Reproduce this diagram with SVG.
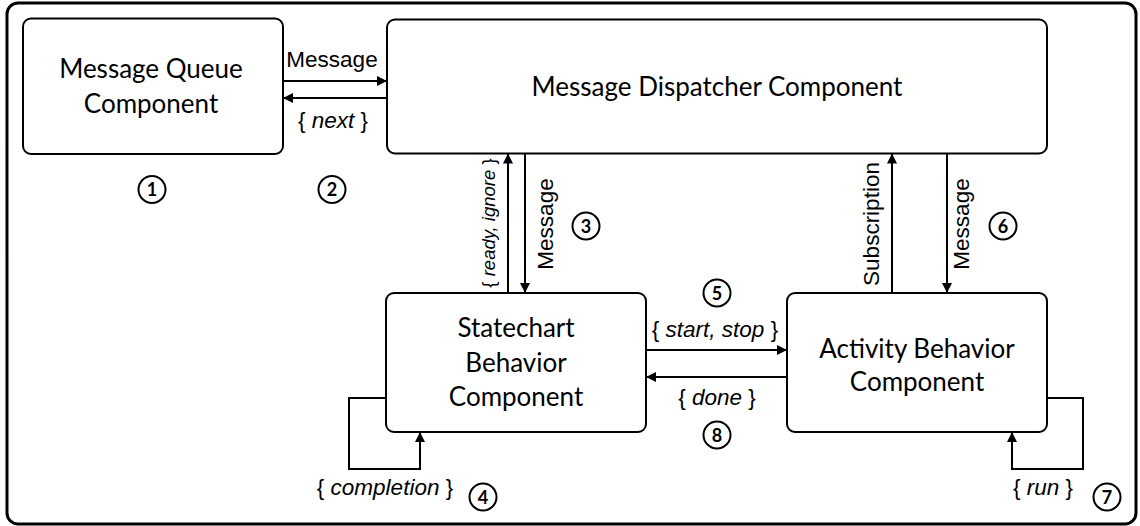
<svg xmlns="http://www.w3.org/2000/svg" width="1140" height="526" viewBox="0 0 1140 526">
<defs>
<marker id="ah" viewBox="0 0 10 10" refX="10" refY="5" markerWidth="10" markerHeight="10" markerUnits="userSpaceOnUse" orient="auto">
<path d="M0,0 L10,5 L0,10 z" fill="#000"/>
</marker>
<style>
.box{fill:#fff;stroke:#000;stroke-width:2}
.nl{font-family:Lato,"Liberation Sans",sans-serif;font-size:26px;fill:#000;text-anchor:middle}
.el{font-family:"Liberation Sans",Arial,sans-serif;font-size:22.5px;fill:#000;text-anchor:middle}
.sm{font-size:18.5px}
.it{font-style:italic}
.arr{fill:none;stroke:#000;stroke-width:2;marker-end:url(#ah)}
.num circle{fill:#fff;stroke:#000;stroke-width:2}
.num text{font-family:Lato,"Liberation Sans",sans-serif;font-size:18px;font-weight:bold;fill:#000;text-anchor:middle}
</style>
</defs>
<rect x="0" y="0" width="1140" height="526" fill="#fff"/>
<rect x="7" y="3" width="1129" height="521" rx="11" fill="none" stroke="#000" stroke-width="3"/>

<g id="mq">
<rect class="box" x="23" y="18.5" width="260" height="135.5" rx="8"/>
<text class="nl" x="151" y="78">Message Queue</text>
<text class="nl" x="151" y="113">Component</text>
</g>
<g id="md">
<rect class="box" x="387" y="19.5" width="660" height="134" rx="8"/>
<text class="nl" x="717" y="96">Message Dispatcher Component</text>
</g>
<g id="sc">
<rect class="box" x="386" y="293" width="260" height="139" rx="8"/>
<text class="nl" x="516" y="337">Statechart</text>
<text class="nl" x="516" y="372">Behavior</text>
<text class="nl" x="516" y="406">Component</text>
</g>
<g id="ab">
<rect class="box" x="787" y="293" width="260" height="139" rx="8"/>
<text class="nl" x="917" y="358">Activity Behavior</text>
<text class="nl" x="917" y="391">Component</text>
</g>

<g id="connectors">
<line class="arr" x1="283" y1="81" x2="387" y2="81"/>
<line class="arr" x1="387" y1="98" x2="283" y2="98"/>
<line class="arr" x1="508" y1="293" x2="508" y2="153.5"/>
<line class="arr" x1="525" y1="153.5" x2="525" y2="293"/>
<line class="arr" x1="892" y1="293" x2="892" y2="153.5"/>
<line class="arr" x1="947" y1="153.5" x2="947" y2="293"/>
<line class="arr" x1="646" y1="350" x2="787" y2="350"/>
<line class="arr" x1="787" y1="377" x2="646" y2="377"/>
<path class="arr" d="M386,398 H349 V469 H420 V432"/>
<path class="arr" d="M1047,398 H1083 V469 H1012 V432"/>
</g>

<g id="labels">
<text class="el" x="332" y="67">Message</text>
<text class="el" x="333" y="128">{ <tspan class="it">next</tspan> }</text>
<text class="el sm" transform="translate(495,223) rotate(-90)">{ <tspan class="it">ready, ignore</tspan> }</text>
<text class="el" transform="translate(553,224) rotate(-90)">Message</text>
<text class="el" transform="translate(879,224) rotate(-90)">Subscription</text>
<text class="el" transform="translate(969,224) rotate(-90)">Message</text>
<text class="el" x="715" y="337">{ <tspan class="it">start, stop</tspan> }</text>
<text class="el" x="717" y="405">{ <tspan class="it">done</tspan> }</text>
<text class="el" x="385" y="495">{ <tspan class="it">completion</tspan> }</text>
<text class="el" x="1043" y="495">{ <tspan class="it">run</tspan> }</text>
</g>

<g id="numbers" class="num">
<g><circle cx="152" cy="189.5" r="13.5"/><text x="152" y="196">1</text></g>
<g><circle cx="332" cy="189.5" r="13.5"/><text x="332" y="196">2</text></g>
<g><circle cx="586" cy="226" r="13.5"/><text x="586" y="232.5">3</text></g>
<g><circle cx="483" cy="497" r="13.5"/><text x="483" y="503.5">4</text></g>
<g><circle cx="717" cy="293" r="13.5"/><text x="717" y="299.5">5</text></g>
<g><circle cx="1003" cy="226" r="13.5"/><text x="1003" y="232.5">6</text></g>
<g><circle cx="1107" cy="497" r="13.5"/><text x="1107" y="503.5">7</text></g>
<g><circle cx="717" cy="435" r="13.5"/><text x="717" y="441.5">8</text></g>
</g>
</svg>
